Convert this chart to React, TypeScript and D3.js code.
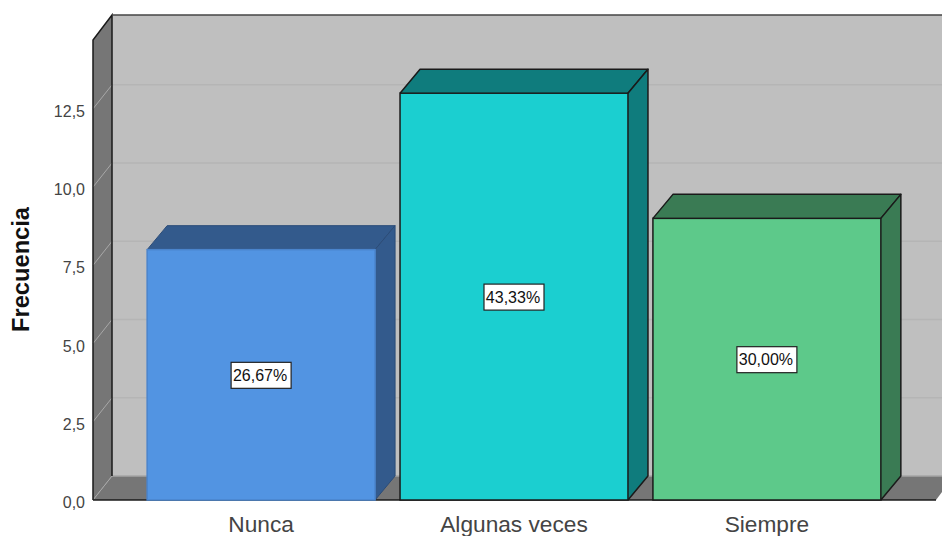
import { useEffect, useRef } from 'react';
import * as d3 from 'd3';

const categories = ['Nunca', 'Algunas veces', 'Siempre'];
const frequencies = [8, 13, 9];
const percentLabels = ['26,67%', '43,33%', '30,00%'];
const yTicks = [0, 2.5, 5, 7.5, 10, 12.5];
const frontColors = ['#5294e2', '#1bcfd0', '#5dc98a'];
const sideColors = ['#335a8c', '#0f7c7d', '#3a7b54'];

const width = 942;
const height = 536;
const depthX = 19;
const depthY = 24;
const stroke = '#1a1a1a';

export default function App() {
  const svgRef = useRef<SVGSVGElement>(null);

  useEffect(() => {
    if (!svgRef.current) return;
    const svg = d3.select(svgRef.current);
    svg.selectAll('*').remove();
    svg.attr('width', width).attr('height', height).style('font-family', '"Liberation Sans", Arial, sans-serif');

    const y = d3.scaleLinear().domain([0, 14.7]).range([500, 40]);
    const x = d3.scaleBand<string>().domain(categories).range([134.5, 893.5]).paddingInner(0.0987).paddingOuter(0.05);
    const left = 93;
    const wallTop = y(14.7) - depthY - 1;
    const line = d3.line();

    // back wall, side wall and floor
    svg.append('rect').attr('x', left + depthX).attr('y', wallTop).attr('width', width - left - depthX).attr('height', y(0) - depthY - wallTop).attr('fill', '#bfbfbf');
    svg.append('path')
      .attr('d', line([[left, y(14.7)], [left + depthX, wallTop], [left + depthX, y(0) - depthY], [left, y(0)]]))
      .attr('fill', '#767676');
    svg.append('path')
      .attr('d', line([[left, y(0)], [left + depthX, y(0) - depthY], [width, y(0) - depthY], [width, y(0) - 8], [936, y(0)]]))
      .attr('fill', '#767676');

    // gridlines
    yTicks.filter((t) => t > 0).forEach((t) => {
      svg.append('line').attr('x1', left + depthX).attr('x2', width).attr('y1', y(t) - depthY).attr('y2', y(t) - depthY).attr('stroke', '#b5b5b5').attr('stroke-width', 1.5);
      svg.append('line').attr('x1', left).attr('x2', left + depthX).attr('y1', y(t)).attr('y2', y(t) - depthY).attr('stroke', '#a8a8a8').attr('stroke-width', 1);
    });
    svg.append('line').attr('x1', left).attr('x2', left + depthX).attr('y1', y(0)).attr('y2', y(0) - depthY).attr('stroke', '#a8a8a8').attr('stroke-width', 1);
    svg.append('line').attr('x1', left + depthX).attr('x2', width).attr('y1', y(0) - depthY).attr('y2', y(0) - depthY).attr('stroke', '#a6a6a6').attr('stroke-width', 1.5);

    // wall outlines
    svg.append('path')
      .attr('d', line([[left, y(0)], [left, y(14.7)], [left + depthX, wallTop], [left + depthX, y(0) - depthY]]))
      .attr('fill', 'none').attr('stroke', stroke).attr('stroke-width', 1.5);
    svg.append('line').attr('x1', left + depthX).attr('x2', width).attr('y1', wallTop).attr('y2', wallTop).attr('stroke', '#444').attr('stroke-width', 1.5);
    svg.append('line').attr('x1', left).attr('x2', 936).attr('y1', y(0)).attr('y2', y(0)).attr('stroke', stroke).attr('stroke-width', 1.5);

    // bars
    categories.forEach((c, i) => {
      const x0 = x(c)!;
      const x1 = x0 + x.bandwidth();
      const top = y(frequencies[i]);
      const base = y(0);
      const outlined = i > 0;
      const edge = outlined ? stroke : '#2b4c78';
      svg.append('path')
        .attr('d', line([[x0, top], [x0 + depthX + 1, top - depthY], [x1 + depthX + 1, top - depthY], [x1, top]]))
        .attr('fill', sideColors[i]).attr('stroke', edge).attr('stroke-width', outlined ? 1.5 : 1).attr('stroke-linejoin', 'round');
      svg.append('path')
        .attr('d', line([[x1, top], [x1 + depthX + 1, top - depthY], [x1 + depthX + 1, base - depthY], [x1, base]]))
        .attr('fill', sideColors[i]).attr('stroke', edge).attr('stroke-width', outlined ? 1.5 : 1).attr('stroke-linejoin', 'round');
      svg.append('rect').attr('x', x0).attr('y', top).attr('width', x.bandwidth()).attr('height', base - top)
        .attr('fill', frontColors[i]).attr('stroke', outlined ? stroke : '#4a84cc').attr('stroke-width', 1.5);

      const cx = (x0 + x1) / 2;
      const cy = (top + base) / 2;
      svg.append('rect').attr('x', cx - 30).attr('y', cy - 12.5).attr('width', 60).attr('height', 26)
        .attr('fill', '#fff').attr('stroke', '#222').attr('stroke-width', 1.2);
      svg.append('text').attr('x', cx - 1).attr('y', cy + 6).attr('text-anchor', 'middle').attr('font-size', 16).attr('fill', '#111').text(percentLabels[i]);

      svg.append('text').attr('x', cx).attr('y', 532).attr('text-anchor', 'middle').attr('font-size', 22.7).attr('fill', '#444').text(c);
    });

    // y axis labels
    yTicks.forEach((t) => {
      svg.append('text').attr('x', 85).attr('y', y(t) + 8).attr('text-anchor', 'end').attr('font-size', 16).attr('fill', '#444')
        .text(d3.format('.1f')(t).replace('.', ','));
    });
    svg.append('text').attr('transform', 'translate(29,269.5) rotate(-90)').attr('text-anchor', 'middle')
      .attr('font-size', 23.7).attr('font-weight', 700).attr('fill', '#111').text('Frecuencia');
  }, []);

  return <svg ref={svgRef} style={{ position: 'absolute', left: 0, top: 0 }} />;
}
